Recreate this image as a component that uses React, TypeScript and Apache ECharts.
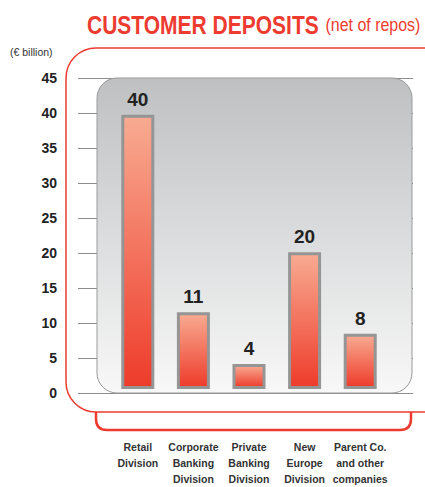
import React, { useEffect, useRef } from "react";
import * as echarts from "echarts";

const categories = [
  "Retail\nDivision",
  "Corporate\nBanking\nDivision",
  "Private\nBanking\nDivision",
  "New\nEurope\nDivision",
  "Parent Co.\nand other\ncompanies",
];
const deposits = [39.7, 11.1, 3.6, 19.8, 8.0];
const valueLabels = ["40", "11", "4", "20", "8"];
const yMin = 0;
const yMax = 45;
const yStep = 5;

const FONT = "'Liberation Sans', Arial, sans-serif";
const RED = "#ee3b30";

echarts.graphic.registerShape(
  "bracket",
  echarts.graphic.extendPath(
    "M96,412 L96,419 Q96,430 107,430 L400,430 Q411,430 411,419 L411,412",
    {}
  )
);

export default function App() {
  const ref = useRef<HTMLDivElement>(null);
  useEffect(() => {
    if (!ref.current) return;
    const chart = echarts.init(ref.current, null, { renderer: "svg" });
    chart.setOption({
      animation: false,
      backgroundColor: "#ffffff",
      grid: [
        { left: 78, width: 335, top: 78, height: 315 },
        { left: 110, width: 278, top: 78, height: 315 },
      ],
      xAxis: [
        { gridIndex: 0, type: "value", min: 0, max: 1, show: false },
        {
          gridIndex: 1,
          type: "category",
          data: categories,
          axisLine: { show: false },
          axisTick: { show: false },
          axisLabel: {
            margin: 50,
            fontFamily: FONT,
            fontWeight: "bold",
            fontSize: 10.5,
            lineHeight: 16,
            color: "#333333",
            interval: 0,
          },
        },
      ],
      yAxis: [
        {
          gridIndex: 0,
          type: "value",
          min: yMin,
          max: yMax,
          interval: yStep,
          z: 0,
          axisLine: { show: false },
          axisTick: { show: false },
          splitLine: { show: true, lineStyle: { color: "#8c8c8c", width: 1 } },
          axisLabel: {
            margin: 21,
            fontFamily: FONT,
            fontWeight: "bold",
            fontSize: 14,
            color: "#222222",
          },
        },
        {
          gridIndex: 1,
          type: "value",
          min: yMin,
          max: yMax,
          interval: yStep,
          show: false,
        },
      ],
      graphic: [
        {
          type: "rect",
          z: 1,
          shape: { x: 97, y: 78, width: 315, height: 315, r: 20 },
          style: {
            fill: new echarts.graphic.LinearGradient(0, 0, 0, 1, [
              { offset: 0, color: "#bec0c2" },
              { offset: 1, color: "#f8f8f8" },
            ]),
            stroke: "#9a9a9a",
            lineWidth: 1,
          },
        },
        {
          type: "rect",
          z: 1,
          shape: { x: 66, y: 48, width: 420, height: 364, r: 30 },
          style: { fill: "none", stroke: RED, lineWidth: 1.5 },
        },
        {
          type: "bracket",
          z: 1,
          x: 0,
          y: 0,
          style: { fill: "none", stroke: RED, lineWidth: 2.5 },
        },
        {
          type: "text",
          z: 1,
          x: 10,
          y: 46,
          style: {
            text: "(€ billion)",
            fontFamily: FONT,
            fontSize: 10.5,
            fill: "#333333",
          },
        },
        {
          type: "text",
          z: 3,
          x: 87,
          y: 25,
          scaleX: 0.84,
          style: {
            text: "{a|CUSTOMER DEPOSITS}{b|(net of repos)}",
            verticalAlign: "middle",
            align: "left",
            rich: {
              a: { fontFamily: FONT, fontWeight: "bold", fontSize: 25, fill: RED },
              b: {
                fontFamily: FONT,
                fontWeight: "normal",
                fontSize: 19,
                fill: RED,
                padding: [0, 0, 0, 8],
              },
            },
          },
        },
      ],
      series: [
        {
          type: "bar",
          xAxisIndex: 1,
          yAxisIndex: 1,
          z: 5,
          data: deposits,
          barWidth: 33,
          itemStyle: {
            borderColor: "#959595",
            borderWidth: 3,
            color: new echarts.graphic.LinearGradient(0, 0, 0, 1, [
              { offset: 0, color: "#f8ab92" },
              { offset: 1, color: "#ee3b2a" },
            ]),
          },
          label: {
            show: true,
            position: "top",
            distance: 6,
            formatter: (p: any) => valueLabels[p.dataIndex],
            fontFamily: FONT,
            fontWeight: "bold",
            fontSize: 19,
            color: "#222222",
          },
        },
      ],
    });
    return () => chart.dispose();
  }, []);
  return (
    <div
      ref={ref}
      style={{ position: "fixed", left: 0, top: 0, width: 425, height: 487 }}
    />
  );
}
